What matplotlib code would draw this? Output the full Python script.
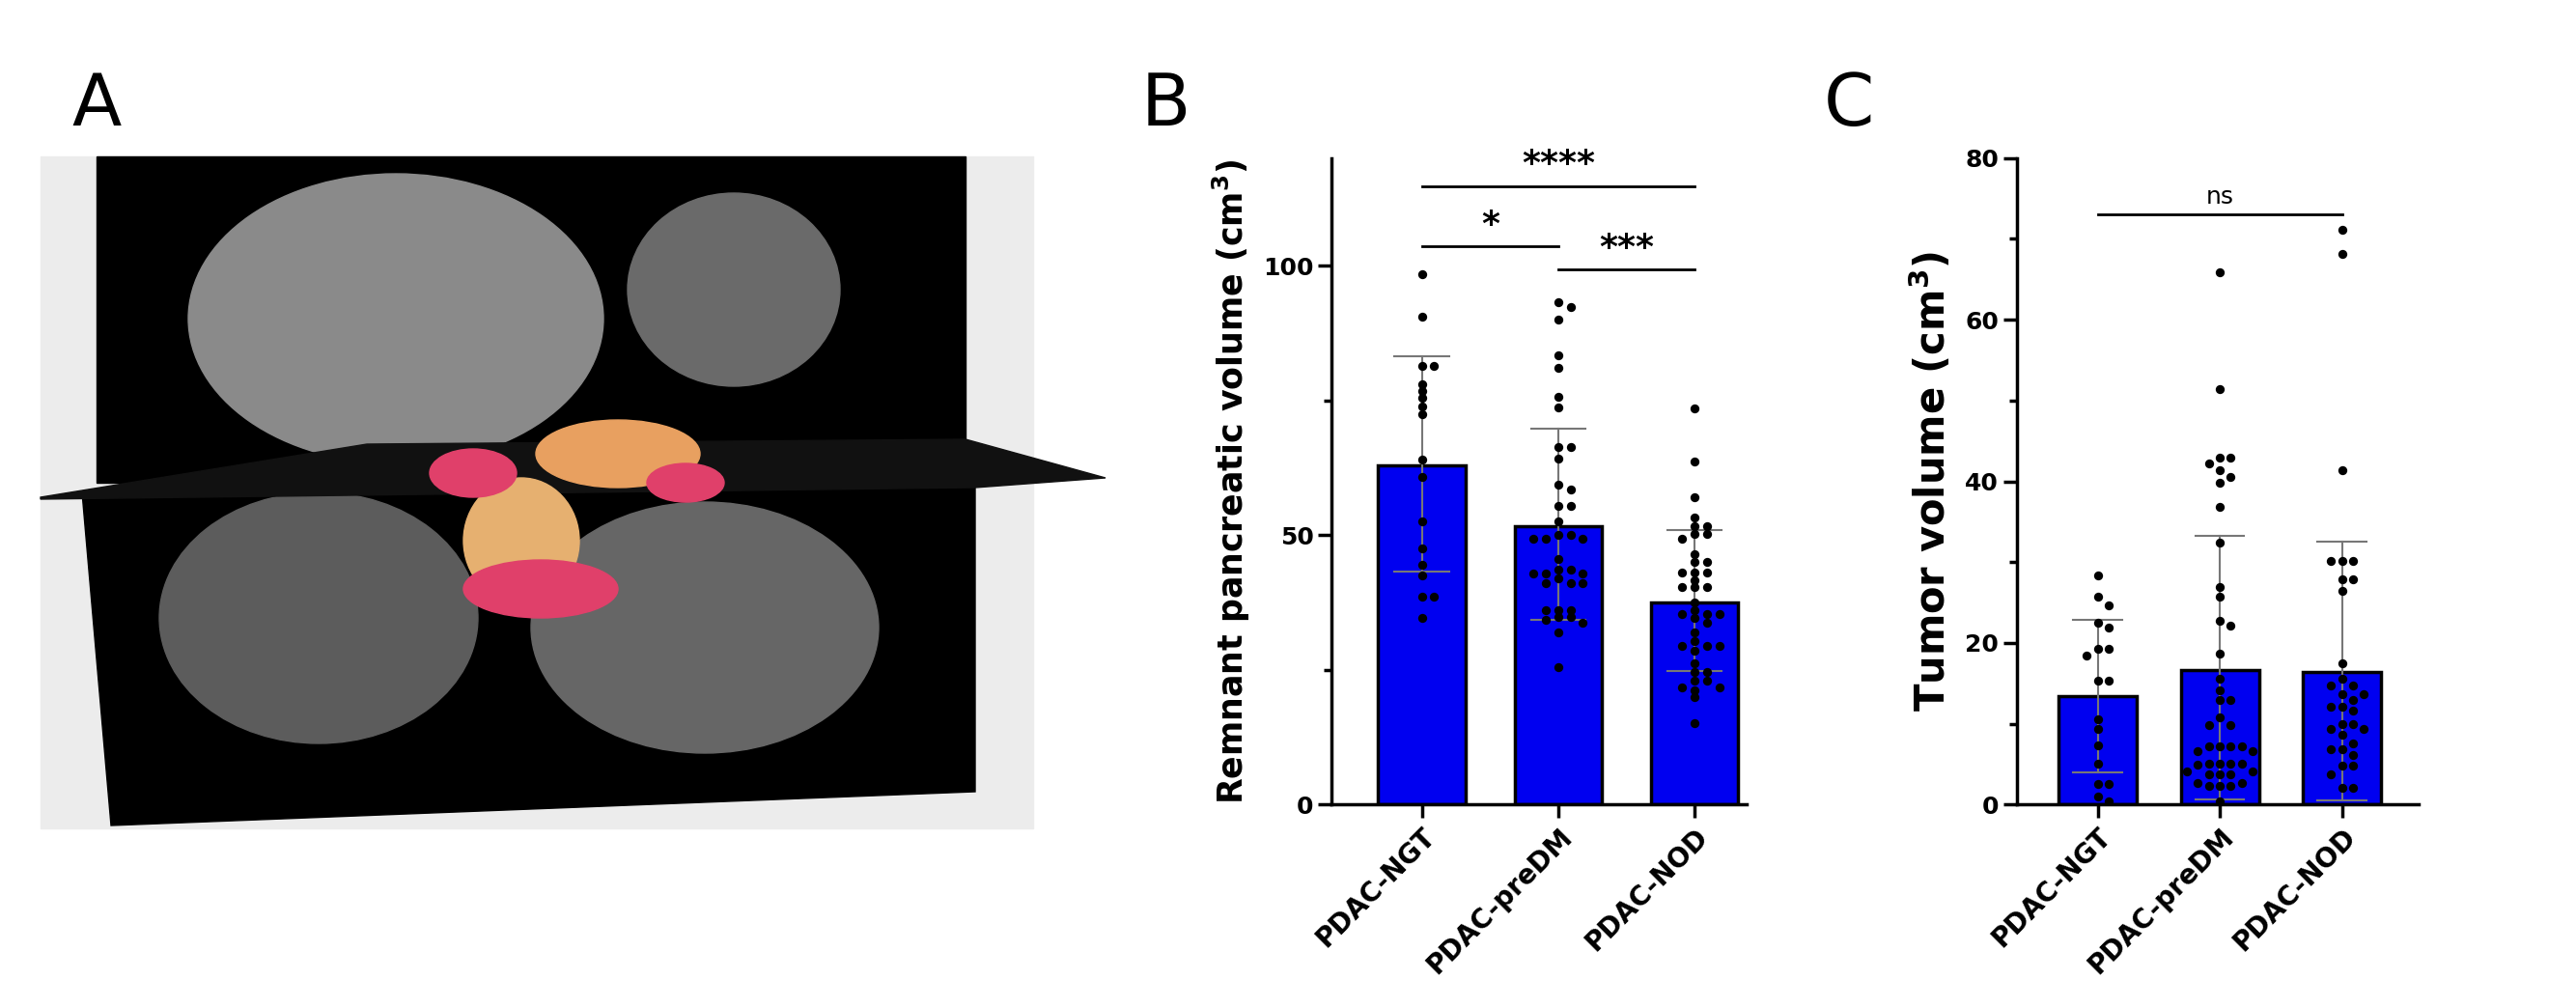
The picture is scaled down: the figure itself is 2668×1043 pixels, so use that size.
import matplotlib
matplotlib.use("Agg")
import matplotlib.pyplot as plt
from matplotlib.patches import Polygon, Ellipse
import numpy as np

categories = ["PDAC-NGT", "PDAC-preDM", "PDAC-NOD"]

# Panel B: remnant pancreatic volume
b_means = [63.0, 51.7, 37.6]
b_sd_hi = [83.3, 69.7, 50.9]
b_sd_lo = [43.3, 34.3, 24.8]
b_ngt = [98.5, 90.5, 81.4, 81.4, 78, 76.8, 75.5, 73.9, 72.4, 64, 60.8, 52.5, 47.6, 44.5, 42.5, 38.6, 38.6, 34.6]
b_predm = [93.3, 92.4, 90, 83.4, 81, 75.7, 73.7, 66.3, 66.3, 64.2, 59.4, 58.5, 55.4, 55.4, 52.5,
           50, 50, 49.3, 49.3, 49.3, 45.6, 43.7, 43.7, 42.9, 42.9, 42.9, 42.0, 41.1, 41.1, 41.1,
           36.1, 36.1, 36.1, 34.9, 34.9, 34.3, 33.7, 31.9, 25.5]
b_nod = [73.5, 63.6, 57.1, 53.2, 51.7, 51.7, 50.3, 50.3, 49.4, 46.4, 45, 45, 43.1, 43.1, 43.1, 41.6,
         40.4, 40.4, 40.4, 37.6, 36.1, 35.3, 35.3, 35.3, 34.7, 33.7, 32, 30.4, 29.4, 29.4, 29.4,
         28.6, 26.3, 24.6, 24.6, 23, 23, 21.8, 21.8, 21.2, 19.9, 15.2]
b_sig = [(0, 2, 114.8, "****"), (0, 1, 103.6, "*"), (1, 2, 99.3, "***")]

# Panel C: tumor volume
c_means = [13.4, 16.7, 16.4]
c_sd_hi = [22.9, 33.3, 32.5]
c_sd_lo = [4.0, 0.6, 0.5]
c_ngt = [28.4, 25.7, 24.7, 22.5, 21.9, 19.3, 19.3, 18.4, 15.3, 15.3, 10.5, 9.4, 7.3, 5.1, 2.6, 2.6, 1.0, 0.4]
c_predm = [65.9, 51.4, 42.9, 42.9, 42.2, 41.4, 40.6, 39.8, 36.8, 32.4, 26.9, 25.7, 22.7, 22.2, 18.7,
           15.6, 14.2, 13, 13, 10.8, 9.8, 9.8, 7.2, 7.2, 7.2, 7.2, 6.6, 6.6, 5.1, 5.1, 5.1, 5.1, 5.0,
           4.1, 4.1, 3.7, 3.7, 3.7, 2.7, 2.7, 2.3, 2.3, 2.3, 0.4]
c_nod = [71.1, 68.2, 41.4, 30.1, 30.1, 30.1, 27.9, 27.9, 26.4, 17.5, 15.6, 14.7, 14.7, 13.7, 13.7, 13,
         12.1, 12.1, 11.6, 10, 10, 9.4, 9.4, 8.6, 7.6, 6.8, 6.8, 6.1, 4.8, 4.8, 3.8, 2.1, 2.1]
c_sig = [(0, 2, 73.1, "ns")]

BLUE = "#0000f0"

def swarm(vals, tol, step):
    vals = np.asarray(vals, float)
    offs = np.zeros(len(vals))
    placed = []
    for i, v in enumerate(vals):
        cands = [0]
        for n in range(1, 8):
            cands += [n * step, -n * step]
        for c in cands:
            if all(abs(c - po) > step * 0.9 or abs(v - pv) > tol for pv, po in placed):
                offs[i] = c
                break
        placed.append((v, offs[i]))
    return offs

fig = plt.figure(figsize=(26.68, 10.43), dpi=100)

def panel(rect, means, hi, lo, groups, sigs, ylim, yticks, minor, ylabel, tol, bigstars, xlim, ylfs):
    ax = fig.add_axes(rect)
    x = np.arange(len(categories))
    ax.bar(x, means, width=0.64, color=BLUE, edgecolor="black", linewidth=2.5, zorder=1)
    for xi, m, h, l in zip(x, means, hi, lo):
        ax.plot([xi, xi], [l, h], color="#777777", lw=1.5, zorder=2)
        for yy in (l, h):
            ax.plot([xi - 0.2, xi + 0.2], [yy, yy], color="#777777", lw=1.5, zorder=2)
    for xi, g in zip(x, groups):
        offs = swarm(g, tol, 0.09)
        ax.scatter(xi + offs, g, s=45, color="black", zorder=3, linewidths=0)
    for a, b, y, t in sigs:
        ax.plot([a, b], [y, y], color="black", lw=2)
        ax.text((a + b) / 2, y + ylim[1] * 0.008, t, ha="center", va="bottom",
                fontsize=26 if bigstars else 18, fontweight="bold" if bigstars else "normal")
    ax.set_xlim(*xlim)
    ax.set_ylim(*ylim)
    ax.set_yticks(yticks)
    ax.set_yticks(minor, minor=True)
    ax.set_xticks(x)
    ax.set_xticklabels(categories, rotation=45, ha="right", rotation_mode="anchor",
                       fontsize=20, fontweight="bold")
    for lab in ax.get_yticklabels():
        lab.set_fontweight("bold")
        lab.set_fontsize(18)
    ax.tick_params(axis="both", width=2.5, length=10)
    ax.tick_params(axis="y", which="minor", width=2.5, length=6)
    ax.spines["top"].set_visible(False)
    ax.spines["right"].set_visible(False)
    ax.spines["left"].set_linewidth(2.5)
    ax.spines["bottom"].set_linewidth(2.5)
    ax.set_ylabel(ylabel, fontsize=ylfs, fontweight="bold", labelpad=8)
    return ax

panel([0.517, 0.201, 0.161, 0.642], b_means, b_sd_hi, b_sd_lo, [b_ngt, b_predm, b_nod], b_sig,
      (0, 120), [0, 50, 100], [25, 75], "Remnant pancreatic volume (cm$^\\mathbf{3}$)", 1.2, True, (-0.66, 2.38), 25)
panel([0.783, 0.201, 0.156, 0.642], c_means, c_sd_hi, c_sd_lo, [c_ngt, c_predm, c_nod], c_sig,
      (0, 80), [0, 20, 40, 60, 80], [10, 30, 50, 70], "Tumor volume (cm$^\\mathbf{3}$)", 1.0, False, (-0.66, 2.63), 30)

# Panel A: schematic CT rendering
axA = fig.add_axes([0, 0, 1, 1], zorder=-1)
axA.set_xlim(0, 2668)
axA.set_ylim(1043, 0)
axA.axis("off")
axA.add_patch(Polygon([(42, 162), (1070, 162), (1070, 858), (42, 858)], color="#ececec"))
axA.add_patch(Polygon([(100, 162), (1000, 162), (1000, 500), (100, 500)], color="black"))
axA.add_patch(Polygon([(85, 510), (1010, 490), (1010, 820), (115, 855)], color="black"))
axA.add_patch(Ellipse((410, 330), 430, 300, color="#8a8a8a"))
axA.add_patch(Ellipse((760, 300), 220, 200, color="#6a6a6a"))
axA.add_patch(Ellipse((330, 640), 330, 260, color="#5c5c5c"))
axA.add_patch(Ellipse((730, 650), 360, 260, color="#666666"))
axA.add_patch(Polygon([(42, 515), (380, 460), (1000, 455), (1145, 495), (1010, 505), (42, 517)], color="#111111"))
axA.add_patch(Ellipse((640, 470), 170, 70, color="#e8a060"))
axA.add_patch(Ellipse((540, 560), 120, 130, color="#e6b070"))
axA.add_patch(Ellipse((560, 610), 160, 60, color="#e0406a"))
axA.add_patch(Ellipse((490, 490), 90, 50, color="#e0406a"))
axA.add_patch(Ellipse((710, 500), 80, 40, color="#e0406a"))

fig.text(0.028, 0.93, "A", fontsize=54, va="top")
fig.text(0.443, 0.93, "B", fontsize=54, va="top")
fig.text(0.708, 0.93, "C", fontsize=54, va="top")

fig.savefig("out.png", dpi=100)
